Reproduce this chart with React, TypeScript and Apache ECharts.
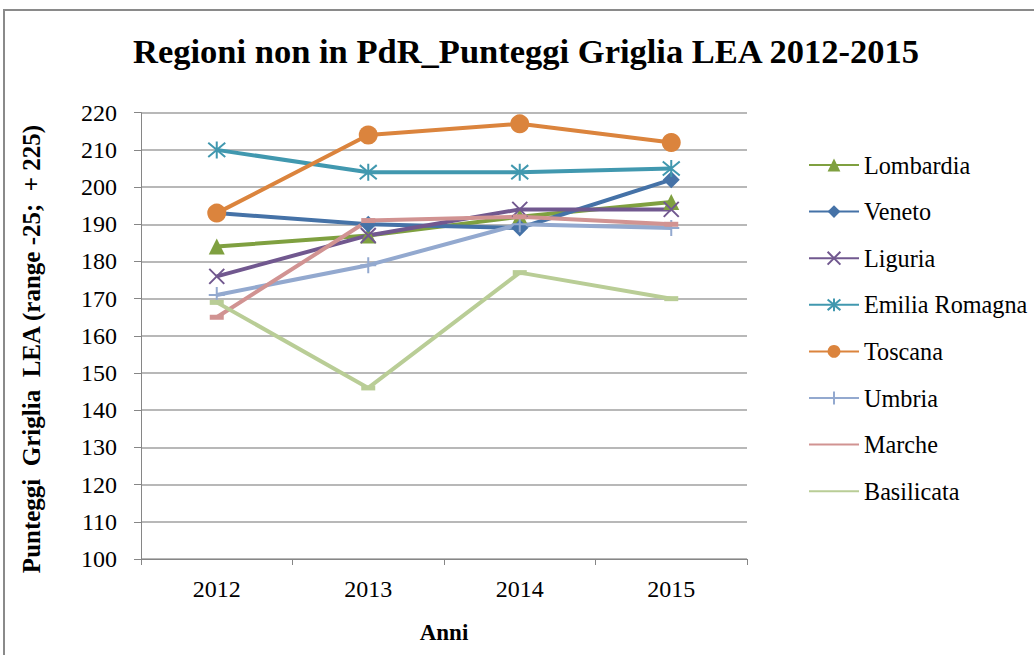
import React, { useEffect, useRef } from "react";
import * as echarts from "echarts";

const years = ["2012", "2013", "2014", "2015"];
const lombardia = [184, 187, 192, 196];
const veneto = [193, 190, 189, 202];
const liguria = [176, 187, 194, 194];
const emiliaRomagna = [210, 204, 204, 205];
const toscana = [193, 214, 217, 212];
const umbria = [171, 179, 190, 189];
const marche = [165, 191, 192, 190];
const basilicata = [169, 146, 177, 170];

const FONT = "Liberation Serif";

const X_PATH = "path://M0,0L10,10M10,0L0,10";
const AST_PATH = "path://M0,0L10,10M10,0L0,10M5,-1L5,11";
const PLUS_PATH = "path://M0,5L10,5M5,0L5,10";

export default function App() {
  const ref = useRef<HTMLDivElement>(null);
  useEffect(() => {
    document.body.style.margin = "0";
    const chart = echarts.init(ref.current!, null, { renderer: "svg" });
    const mk = (
      name: string,
      data: number[],
      color: string,
      symbol: string,
      size: any,
      stroked = false
    ) => ({
      name,
      type: "line",
      data,
      symbol,
      symbolSize: size,
      showSymbol: true,
      lineStyle: { color, width: 4 },
      itemStyle: stroked
        ? { color, borderColor: color, borderWidth: 2 }
        : { color, borderWidth: 0 },
      emphasis: { disabled: true },
    });
    const names = [
      "Lombardia",
      "Veneto",
      "Liguria",
      "Emilia Romagna",
      "Toscana",
      "Umbria",
      "Marche",
      "Basilicata",
    ];
    const labelStyle = {
      fontFamily: FONT,
      fontSize: 24,
      color: "#000",
    };
    chart.setOption({
      animation: false,
      backgroundColor: "#ffffff",
      textStyle: { fontFamily: FONT, fontSize: 21, color: "#000" },
      title: {
        text: "Regioni non in PdR_Punteggi Griglia LEA 2012-2015",
        left: 521,
        textAlign: "center",
        top: 28,
        textStyle: { fontFamily: FONT, fontSize: 34.5, fontWeight: "bold", color: "#000" },
      },
      graphic: [
        {
          type: "rect",
          shape: { x: 4, y: 10, width: 1040, height: 660 },
          style: { fill: "none", stroke: "#8a8a8a", lineWidth: 2 },
          silent: true,
        },
        {
          type: "text",
          x: 31,
          y: 349,
          rotation: Math.PI / 2,
          style: {
            text: "Punteggi  Griglia  LEA (range -25;  + 225)",
            fontFamily: FONT,
            fontSize: 25,
            fontWeight: "bold",
            fill: "#000",
            align: "center",
            verticalAlign: "middle",
          },
          silent: true,
        },
      ],
      legend: {
        orient: "vertical",
        left: 808,
        top: 153,
        padding: 0,
        itemWidth: 50,
        itemHeight: 16,
        itemGap: 22.6,
        textStyle: { fontFamily: FONT, fontSize: 24.2, color: "#000" },
        data: names.map((n) =>
          n === "Marche" || n === "Basilicata"
            ? { name: n, itemStyle: { opacity: 0 } }
            : { name: n }
        ),
      },
      grid: {
        left: 141,
        right: 287,
        top: 112.7,
        bottom: 96,
        containLabel: false,
        outerBoundsMode: "none",
      },
      xAxis: {
        type: "category",
        data: years,
        boundaryGap: true,
        name: "Anni",
        nameLocation: "middle",
        nameGap: 62,
        nameTextStyle: { fontFamily: FONT, fontSize: 23, fontWeight: "bold", color: "#000" },
        axisLine: { lineStyle: { color: "#868686", width: 1 } },
        axisTick: { show: true, length: 6, lineStyle: { color: "#868686" } },
        axisLabel: { margin: 18, ...labelStyle },
      },
      yAxis: {
        type: "value",
        min: 100,
        max: 220,
        interval: 10,
        axisLine: { show: true, lineStyle: { color: "#868686", width: 1 } },
        axisTick: { show: true, length: 7, lineStyle: { color: "#868686" } },
        axisLabel: { margin: 24, ...labelStyle },
        splitLine: { lineStyle: { color: "#a0a0a0", width: 1.5 } },
      },
      series: [
        mk("Lombardia", lombardia, "#7fa040", "triangle", 16),
        mk("Veneto", veneto, "#4572a7", "diamond", 17),
        mk("Liguria", liguria, "#71588f", X_PATH, 15, true),
        mk("Emilia Romagna", emiliaRomagna, "#4198af", AST_PATH, 17, true),
        mk("Toscana", toscana, "#db843d", "circle", 19),
        mk("Umbria", umbria, "#93a9cf", PLUS_PATH, 16, true),
        mk("Marche", marche, "#d19392", "rect", [14, 5]),
        mk("Basilicata", basilicata, "#b9cd96", "rect", [14, 5]),
      ],
    });
    return () => chart.dispose();
  }, []);
  return (
    <div
      ref={ref}
      style={{ position: "fixed", left: 0, top: 0, width: 1034, height: 655 }}
    />
  );
}
